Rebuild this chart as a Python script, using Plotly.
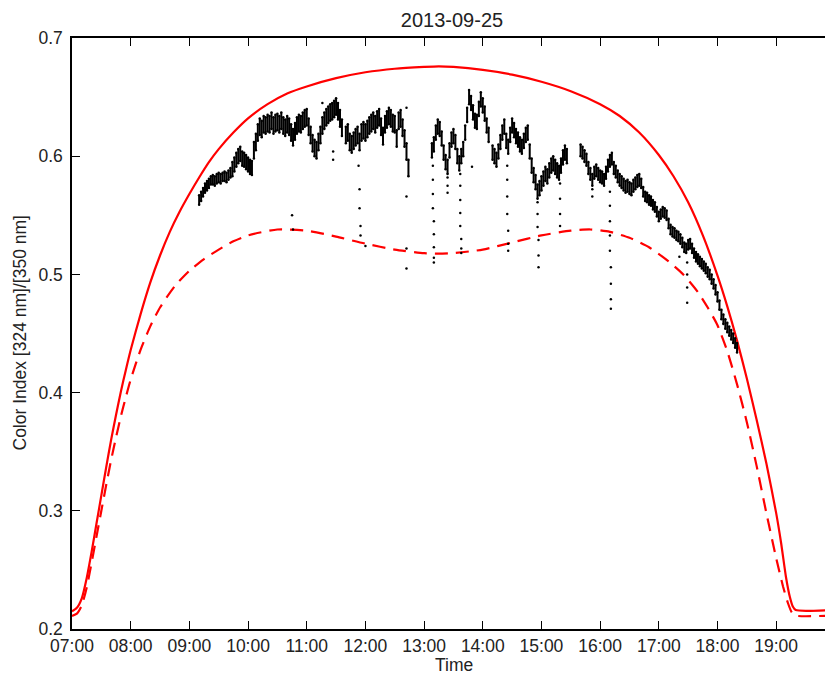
import plotly.graph_objects as go
import pandas as pd

DATE = "2013-09-25"

# Modelled upper bound (solid red)
max_time = ["07:00", "07:05", "07:10", "07:15", "07:20", "07:25", "07:30", "07:35", "07:40",
            "07:45", "07:50", "07:55", "08:00", "08:10", "08:20", "08:30", "08:40", "08:50",
            "09:00", "09:10", "09:20", "09:30", "09:45", "10:00", "10:20", "10:40", "11:00",
            "11:30", "12:00", "12:30", "13:00", "13:15", "13:30", "14:00", "14:30", "15:00",
            "15:30", "16:00", "16:20", "16:40", "17:00", "17:15", "17:30", "17:45", "18:00",
            "18:10", "18:20", "18:30", "18:40", "18:50", "19:00", "19:05", "19:10", "19:14",
            "19:17", "19:20", "19:55"]
max_val = [0.215, 0.218, 0.226, 0.243, 0.265, 0.289, 0.313, 0.337, 0.360,
           0.381, 0.401, 0.419, 0.436, 0.466, 0.493, 0.516, 0.536, 0.553,
           0.568, 0.582, 0.595, 0.606, 0.620, 0.632, 0.644, 0.653, 0.659,
           0.666, 0.671, 0.674, 0.6755, 0.676, 0.6755, 0.673, 0.669, 0.663,
           0.655, 0.644, 0.634, 0.620, 0.601, 0.583, 0.561, 0.533, 0.499,
           0.473, 0.444, 0.412, 0.377, 0.340, 0.298, 0.273, 0.244, 0.227,
           0.219, 0.216, 0.216]

# Modelled lower bound (dashed red)
min_time = ["07:00", "07:05", "07:10", "07:15", "07:20", "07:25", "07:30", "07:35", "07:40",
            "07:45", "07:50", "07:55", "08:00", "08:10", "08:20", "08:30", "08:45", "09:00",
            "09:15", "09:30", "09:45", "10:00", "10:30", "11:00", "11:30", "12:00", "12:30",
            "13:00", "13:15", "13:30", "14:00", "14:30", "15:00", "15:30", "15:50", "16:10",
            "16:30", "16:50", "17:10", "17:25", "17:40", "17:50", "18:00", "18:10", "18:20",
            "18:30", "18:40", "18:50", "19:00", "19:07", "19:12", "19:16", "19:20", "19:55"]
min_val = [0.211, 0.213, 0.220, 0.235, 0.256, 0.278, 0.300, 0.322, 0.343,
           0.362, 0.380, 0.396, 0.411, 0.436, 0.456, 0.472, 0.490, 0.503,
           0.513, 0.521, 0.528, 0.533, 0.538, 0.537, 0.532, 0.526, 0.521,
           0.518, 0.5175, 0.518, 0.521, 0.527, 0.533, 0.537, 0.538, 0.536,
           0.531, 0.523, 0.511, 0.500, 0.485, 0.472, 0.457, 0.435, 0.407,
           0.375, 0.338, 0.298, 0.260, 0.236, 0.222, 0.214, 0.2113, 0.2113]

# Measured colour index: lower / upper edge of the scatter band, every 2 min from 09:10
band_start = "09:10"
band_step_min = 2
band_lo_milli = [
    # 09:10 - 09:58
    559, 562, 566, 569, 571, 573, 576, 576, 575, 577, 578, 577, 579, 579, 578, 580, 582,
    583, 587, 591, 594, 596, 592, 591, 589,
    # 10:00 - 10:58
    587, 585, 584, 598, 605, 613, 618, 616, 620, 619, 621, 620, 623, 619, 621, 622, 620,
    623, 619, 617, 620, 618, 613, 609, 614, 619, 621, 620, 623, 625,
    # 11:00 - 11:58
    626, 618, 611, 604, 600, 598, 605, 611, 619, 623, 626, 628, 630, 631, 633, 635, 631,
    625, 617, None, 611, 613, 605, 603, 606, 609, 611, 605, 613, 615,
    # 12:00 - 12:58
    613, 616, 619, 621, 623, 620, 624, 626, 618, 610, 620, 624, 627, 625, 621, 620, 608,
    623, 625, 617, 608, 597, 583, None, None, None, None, None, None, None,
    # 13:00 - 13:58
    None, None, None, None, 599, 604, 614, 619, 617, 609, 597, 589, 585, 599, 608, 611,
    606, 594, 588, 594, 600, 614, 629, 644, 639, 631, 624, 623, 634, 642,
    # 14:00 - 14:58
    637, 630, 620, 612, None, 597, 594, 591, 598, 606, 614, 619, 607, 602, 612, 620, 616,
    611, 608, 604, 602, 607, 612, 614, 598, 586, 578, 572, 564, 567,
    # 15:00 - 15:58
    571, 575, 579, 577, 582, 586, 588, 585, 582, 580, 586, 593, 597, 594, None, None, None,
    None, None, None, 600, 598, 595, 592, 585, 580, 575, 581, 583, 580,
    # 16:00 - 16:58
    578, 577, 575, 581, 587, 591, 593, 585, 582, 578, 575, 573, 571, 569, 570, 568, 567,
    570, 572, 574, 575, 573, 566, 562, 561, 559, 558, 555, 553, 549,
    # 17:00 - 17:58
    545, 547, 549, 548, 546, 539, 534, 532, 531, 529, 528, 526, 523, 519, 518, 521, 522,
    518, 514, 511, 509, 507, 505, 503, 501, 498, 496, 492, 488, 483,
    # 18:00 - 18:20
    477, 470, 462, 458, 454, 451, 448, 445, 442, 438, 434,
]
band_hi_milli = [
    # 09:10 - 09:58
    567, 570, 573, 577, 579, 581, 583, 584, 583, 585, 586, 585, 586, 587, 586, 588, 590,
    595, 599, 603, 606, 608, 604, 603, 601,
    # 10:00 - 10:58
    599, 597, 596, 612, 619, 627, 632, 630, 634, 633, 635, 634, 637, 633, 635, 636, 634,
    637, 633, 631, 634, 632, 627, 623, 628, 633, 635, 634, 637, 639,
    # 11:00 - 11:58
    640, 632, 625, 618, 614, 612, 619, 625, 633, 637, 640, 642, 644, 645, 647, 649, 645,
    639, 631, None, 625, 627, 619, 617, 620, 623, 625, 619, 627, 629,
    # 12:00 - 12:58
    627, 630, 633, 635, 637, 634, 638, 640, 632, 624, 634, 638, 641, 639, 635, 634, 622,
    637, 639, 631, 622, 611, 597, None, None, None, None, None, None, None,
    # 13:00 - 13:58
    None, None, None, None, 611, 616, 626, 631, 629, 621, 609, 601, 597, 611, 620, 623,
    618, 606, 600, 606, 612, 626, 641, 656, 651, 643, 636, 635, 646, 654,
    # 14:00 - 14:58
    649, 642, 632, 624, None, 609, 606, 603, 610, 618, 626, 631, 619, 614, 624, 632, 628,
    623, 620, 616, 614, 619, 624, 626, 610, 598, 590, 584, 576, 579,
    # 15:00 - 15:58
    583, 587, 591, 589, 594, 598, 600, 597, 594, 592, 598, 605, 609, 606, None, None, None,
    None, None, None, 610, 608, 605, 602, 595, 590, 585, 591, 593, 590,
    # 16:00 - 16:58
    588, 587, 585, 591, 597, 601, 603, 595, 592, 588, 585, 583, 581, 579, 580, 578, 577,
    580, 582, 584, 585, 581, 574, 570, 569, 567, 566, 563, 561, 557,
    # 17:00 - 17:58
    553, 555, 557, 556, 554, 547, 542, 540, 539, 537, 536, 534, 531, 527, 526, 529, 530,
    526, 522, 519, 517, 515, 513, 511, 509, 506, 504, 500, 496, 491,
    # 18:00 - 18:20
    485, 478, 470, 466, 462, 459, 456, 453, 450, 446, 442,
]

# Isolated readings (cloud dips and spikes)
outlier_time = ["10:45", "10:46", "11:16", "11:27", "11:27", "11:53", "11:54", "11:54", "11:55",
                "11:55", "12:00", "12:42", "12:42", "12:42", "12:42",
                "13:09", "13:09", "13:09", "13:09", "13:10", "13:10", "13:10", "13:10", "13:10",
                "13:24", "13:24", "13:24",
                "13:37", "13:37", "13:37", "13:37", "13:37", "13:38", "13:38", "13:38", "13:49",
                "14:25", "14:25", "14:25", "14:25", "14:26", "14:26", "14:26",
                "14:56", "14:56", "14:56", "14:57", "14:57", "14:57",
                "15:19", "15:19", "15:19", "15:19", "15:52", "15:52",
                "16:10", "16:10", "16:10", "16:10", "16:10", "16:11", "16:11", "16:11", "16:11",
                "17:21", "17:29", "17:29", "17:29", "17:29"]
outlier_val = [0.550, 0.538, 0.645, 0.604, 0.597, 0.592, 0.572, 0.556, 0.541,
               0.533, 0.524, 0.641, 0.566, 0.522, 0.505,
               0.592, 0.580, 0.568, 0.556, 0.545, 0.534, 0.523, 0.514, 0.510,
               0.582, 0.575, 0.569,
               0.585, 0.575, 0.563, 0.552, 0.541, 0.530, 0.522, 0.518, 0.591,
               0.592, 0.580, 0.566, 0.551, 0.537, 0.526, 0.520,
               0.561, 0.551, 0.540, 0.529, 0.516, 0.506,
               0.577, 0.564, 0.551, 0.541, 0.572, 0.566,
               0.570, 0.558, 0.545, 0.533, 0.520, 0.506, 0.492, 0.479, 0.471,
               0.515, 0.510, 0.500, 0.489, 0.476]

x_tick_labels = ["07:00", "08:00", "09:00", "10:00", "11:00", "12:00", "13:00",
                 "14:00", "15:00", "16:00", "17:00", "18:00", "19:00"]
y_tick_vals = [0.2, 0.3, 0.4, 0.5, 0.6, 0.7]


def ts(hhmm):
    return pd.Timestamp(f"{DATE} {hhmm}")


t0 = ts(band_start)
band_t = [t0 + pd.Timedelta(minutes=band_step_min * i) for i in range(len(band_lo_milli))]

seg_x, seg_y, dot_x, dot_y = [], [], [], []
for t, lo, hi in zip(band_t, band_lo_milli, band_hi_milli):
    if lo is None or hi is None:
        continue
    seg_x += [t, t, None]
    seg_y += [lo / 1000, hi / 1000, None]
    dot_x += [t, t]
    dot_y += [lo / 1000, hi / 1000]

FONT = "Liberation Sans, Arial, Helvetica, sans-serif"

fig = go.Figure()
fig.add_trace(go.Scatter(x=[ts(t) for t in max_time], y=max_val, mode="lines",
                         line=dict(color="#ff0000", width=2.2, shape="spline", smoothing=0.6),
                         hoverinfo="skip", showlegend=False))
fig.add_trace(go.Scatter(x=[ts(t) for t in min_time], y=min_val, mode="lines",
                         line=dict(color="#ff0000", width=2.2, dash="13px,8px",
                                   shape="spline", smoothing=0.6),
                         hoverinfo="skip", showlegend=False))
fig.add_trace(go.Scatter(x=seg_x, y=seg_y, mode="lines",
                         line=dict(color="black", width=2), hoverinfo="skip", showlegend=False))
fig.add_trace(go.Scatter(x=dot_x, y=dot_y, mode="markers",
                         marker=dict(color="black", size=2.5), showlegend=False))
fig.add_trace(go.Scatter(x=[ts(t) for t in outlier_time], y=outlier_val, mode="markers",
                         marker=dict(color="black", size=2.5), showlegend=False))

fig.update_layout(
    width=825, height=675,
    margin=dict(l=72, r=0, t=38, b=46),
    paper_bgcolor="white", plot_bgcolor="white",
    font=dict(family=FONT, size=17.5, color="#222222"),
    title=dict(text=DATE, x=(452 - 72) / 753, xref="paper", xanchor="center",
               y=1 - 20 / 675, yref="container", yanchor="middle",
               font=dict(size=20, color="#222222")),
    showlegend=False,
)
fig.update_xaxes(
    type="date",
    range=[ts("07:00"), ts("19:49:55")],
    tickvals=[ts(t) for t in x_tick_labels], ticktext=x_tick_labels,
    ticks="inside", ticklen=8, tickwidth=1, tickcolor="black",
    showline=True, linecolor="black", linewidth=1.5, mirror="ticks",
    showgrid=False, zeroline=False,
)
fig.update_yaxes(
    range=[0.2, 0.7],
    tickvals=y_tick_vals, ticktext=[f"{v:.1f}" for v in y_tick_vals],
    ticks="inside", ticklen=8, tickwidth=1, tickcolor="black",
    showline=True, linecolor="black", linewidth=1.5, mirror=False,
    showgrid=False, zeroline=False, ticklabelstandoff=4,
)
fig.add_annotation(text="Time", xref="paper", yref="paper", x=(454 - 72) / 753,
                   y=-(676.5 - 629) / 591, xanchor="center", yanchor="bottom",
                   showarrow=False, font=dict(size=17.5, color="#222222"))
fig.add_annotation(text="Color Index [324 nm]/[350 nm]", xref="paper", yref="paper",
                   x=(19 - 72) / 753, y=0.5, xanchor="center", yanchor="middle",
                   textangle=-90, showarrow=False, font=dict(size=17.5, color="#222222"))

fig.write_html("out.html")
